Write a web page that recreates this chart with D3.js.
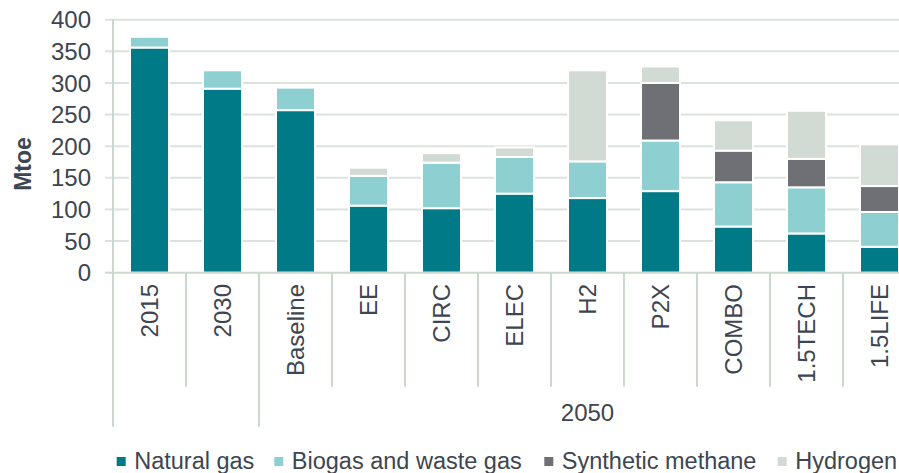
<!DOCTYPE html>
<html><head><meta charset="utf-8">
<script src="https://cdn.jsdelivr.net/npm/d3@7"></script>
<style>body{margin:0;background:#fff}svg{display:block}text{font-family:"Liberation Sans",Arial,sans-serif;fill:#3d4650}</style>
</head><body><svg id="c" width="899" height="473"></svg>
<script>
const categories = ["2015","2030","Baseline","EE","CIRC","ELEC","H2","P2X","COMBO","1.5TECH","1.5LIFE"];
const seriesNames = ["Natural gas","Biogas and waste gas","Synthetic methane","Hydrogen"];
const naturalGas = [356,291,257,106,102,125,118,129,73,62,41];
const biogas     = [17,29,36,47,72,58,58,80,70,73,55];
const synthetic  = [0,0,0,0,0,0,0,91,50,45,41];
const hydrogen   = [0,0,3,13,15,15,144,26,48,76,66];
const yTicks = [0,50,100,150,200,250,300,350,400];
const groups = [{label:"",from:0,to:2},{label:"2050",from:2,to:11}];
const colors = ["#007a87","#8ed0d1","#6f7075","#d2dbd3"];

(function(){
const svg = d3.select("#c");
const left = 113, topY = 19.7, bottomY = 272.7, step = 73;
const x = d3.scaleBand().domain(categories).range([left, left + step*categories.length]).paddingInner(0.466).paddingOuter(0.233);
const y = d3.scaleLinear().domain([0,400]).range([bottomY, topY]);
const gridC = "#dce3dd", axC = "#cbd8ce";

svg.append("g").selectAll("line").data(yTicks.filter(d=>d>0)).join("line")
  .attr("x1", left-8).attr("x2", 899).attr("y1", d=>y(d)).attr("y2", d=>y(d))
  .attr("stroke", gridC).attr("stroke-width", 2);
svg.append("line").attr("x1", left-8).attr("x2", left).attr("y1", y(0)).attr("y2", y(0)).attr("stroke", axC).attr("stroke-width",2);

const table = categories.map((c,i)=>({cat:c, "Natural gas":naturalGas[i], "Biogas and waste gas":biogas[i], "Synthetic methane":synthetic[i], "Hydrogen":hydrogen[i]}));
const stack = d3.stack().keys(seriesNames)(table);
svg.append("g").selectAll("g").data(stack).join("g").attr("fill",(d,i)=>colors[i])
  .selectAll("rect").data(d=>d.filter(p=>p[1]-p[0]>0)).join("rect")
  .attr("x", d=>x(d.data.cat)).attr("width", x.bandwidth())
  .attr("y", d=>y(d[1])).attr("height", d=>y(d[0])-y(d[1]))
  .attr("stroke","#fff").attr("stroke-width",2);

svg.append("line").attr("x1",left).attr("x2",left).attr("y1",topY).attr("y2",bottomY).attr("stroke",axC).attr("stroke-width",2);
svg.append("line").attr("x1",left).attr("x2",899).attr("y1",bottomY).attr("y2",bottomY).attr("stroke",axC).attr("stroke-width",2);

svg.append("g").selectAll("text").data(yTicks).join("text")
  .attr("x", 91).attr("y", d=>y(d)).attr("dy","0.36em").attr("text-anchor","end")
  .style("font-size","24px").text(d=>d);
svg.append("text").attr("transform","translate(31,164) rotate(-90)").attr("text-anchor","middle")
  .style("font-size","23px").style("font-weight","bold").text("Mtoe");

const bounds = d3.range(categories.length+1).map(i=>left + step*i);
const groupBounds = new Set(groups.flatMap(g=>[g.from,g.to]));
svg.append("g").selectAll("line").data(bounds).join("line")
  .attr("x1",d=>d).attr("x2",d=>d).attr("y1",bottomY)
  .attr("y2",(d,i)=>groupBounds.has(i)?426.7:386.7)
  .attr("stroke",axC).attr("stroke-width",2);

svg.append("g").selectAll("text").data(categories).join("text")
  .attr("transform", d=>`translate(${x(d)+x.bandwidth()/2},284) rotate(-90)`)
  .attr("dy","0.36em").attr("text-anchor","end").style("font-size","24px").text(d=>d);

svg.append("g").selectAll("text").data(groups.filter(g=>g.label)).join("text")
  .attr("x", g=>left + step*(g.from+g.to)/2).attr("y",421).attr("text-anchor","middle")
  .style("font-size","24px").text(g=>g.label);

const legX = [116.7, 274.3, 544.3, 777.7];
const lg = svg.append("g").selectAll("g").data(seriesNames).join("g")
  .attr("transform",(d,i)=>`translate(${legX[i]},0)`);
lg.append("rect").attr("x",0).attr("y",457).attr("width",9).attr("height",9).attr("fill",(d,i)=>colors[i]);
lg.append("text").attr("x",17.5).attr("y",469).style("font-size","23.5px").text(d=>d);
})();
</script></body></html>
